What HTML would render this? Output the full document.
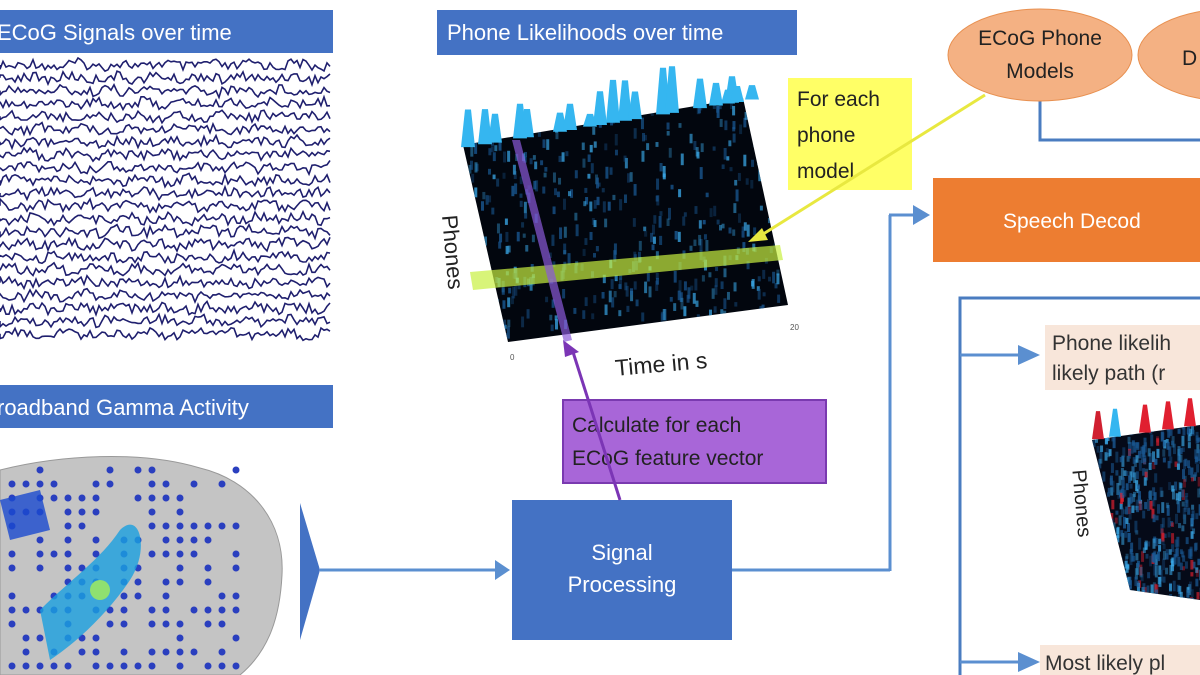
<!DOCTYPE html>
<html><head><meta charset="utf-8"><style>
body{margin:0;width:1200px;height:675px;overflow:hidden;background:#fff;font-family:"Liberation Sans",sans-serif}
svg{position:absolute;left:0;top:0}
</style></head><body>
<svg id="s" width="1200" height="675" viewBox="0 0 1200 675">
<defs>
<clipPath id="hm"><polygon points="463,145 743,98 788,305 508,342"/></clipPath>
<clipPath id="hm2"><polygon points="1092,440 1200,425 1200,600 1130,590"/></clipPath>
</defs>
<rect x="-5" y="10" width="338" height="43" fill="#4472c4"/>
<text x="-3" y="40" fill="#fff" font-size="22">ECoG Signals over time</text>
<rect x="-5" y="385" width="338" height="43" fill="#4472c4"/>
<text x="-3" y="415" fill="#fff" font-size="22">roadband  Gamma Activity</text>
<rect x="437" y="10" width="360" height="45" fill="#4472c4"/>
<text x="447" y="40" fill="#fff" font-size="22">Phone Likelihoods over time</text>
<g id="traces" stroke="#1f1f6e" stroke-width="1.6" fill="none"></g>
<path d="M0,470 C60,455 140,450 200,468 C250,480 285,520 282,575 C280,615 270,650 240,675 L0,675 Z" fill="#c4c4c4" stroke="#999"/>
<g id="dots" fill="#2a3fbf"></g>
<path d="M40,610 C70,580 100,560 120,530 C140,510 150,550 130,580 C110,610 80,640 50,660 Z" fill="#1aa0e0" opacity="0.8"/>
<circle cx="100" cy="590" r="10" fill="#8fe070"/>
<path d="M0,500 L40,490 L50,530 L10,540 Z" fill="#1a4ad0" opacity="0.8"/>
<polygon points="300,503 320,570 300,640" fill="#4472c4"/>
<line x1="320" y1="570" x2="495" y2="570" stroke="#5b8fd0" stroke-width="3"/>
<polygon points="495,560 510,570 495,580" fill="#5b8fd0"/>
<rect x="512" y="500" width="220" height="140" fill="#4472c4"/>
<text x="622" y="560" fill="#fff" font-size="22" text-anchor="middle">Signal</text>
<text x="622" y="592" fill="#fff" font-size="22" text-anchor="middle">Processing</text>
<line x1="732" y1="570" x2="890" y2="570" stroke="#5b8fd0" stroke-width="3"/>
<line x1="890" y1="571" x2="890" y2="215" stroke="#5b8fd0" stroke-width="3"/>
<line x1="889" y1="215" x2="915" y2="215" stroke="#5b8fd0" stroke-width="3"/>
<polygon points="913,205 930,215 913,225" fill="#5b8fd0"/>
<rect x="563" y="400" width="263" height="83" fill="#a866d8" stroke="#7a3ab0" stroke-width="2"/>
<text x="572" y="432" fill="#222" font-size="21">Calculate for each</text>
<text x="572" y="465" fill="#222" font-size="21">ECoG feature vector</text>
<line x1="620" y1="500" x2="573" y2="352" stroke="#7b35b5" stroke-width="3"/>
<polygon points="563,340 579,352 565,357" fill="#7b35b5"/>
<polygon points="463,145 743,98 788,305 508,342" fill="#02060e"/>
<g id="hmc" clip-path="url(#hm)"></g>
<polygon points="470,272 780,245 783,260 473,290" fill="#c8f040" opacity="0.7"/>
<polygon points="512,140 520,140 572,340 564,342" fill="#8a5ad8" opacity="0.7"/>
<g id="peaks" fill="#35b6f0"></g>
<text x="415" y="255" font-size="22" fill="#222" transform="rotate(85 450 250)">Phones</text>
<text x="615" y="372" font-size="23" fill="#222" transform="rotate(-5 660 365)">Time in s</text>
<text x="510" y="360" font-size="8" fill="#555">0</text>
<text x="790" y="330" font-size="8" fill="#555">20</text>
<rect x="788" y="78" width="124" height="112" fill="#ffff66"/>
<text x="797" y="106" font-size="21" fill="#222">For each</text>
<text x="797" y="142" font-size="21" fill="#222">phone</text>
<text x="797" y="178" font-size="21" fill="#222">model</text>
<line x1="985" y1="95" x2="760" y2="236" stroke="#e8e840" stroke-width="3"/>
<polygon points="748,242 762,228 768,240" fill="#e8e840"/>
<path d="M1040,95 L1040,140 L1200,140" stroke="#4a7cc0" stroke-width="3" fill="none"/>
<ellipse cx="1040" cy="55" rx="92" ry="46" fill="#f4b183" stroke="#e89050"/>
<text x="1040" y="45" font-size="21" fill="#222" text-anchor="middle">ECoG Phone</text>
<text x="1040" y="78" font-size="21" fill="#222" text-anchor="middle">Models</text>
<ellipse cx="1230" cy="55" rx="92" ry="46" fill="#f4b183" stroke="#e89050"/>
<text x="1182" y="65" font-size="21" fill="#222">D</text>
<rect x="933" y="178" width="280" height="84" fill="#ed7d31"/>
<text x="1003" y="228" font-size="21" fill="#fff">Speech Decod</text>
<path d="M1200,298 L960,298 L960,675" stroke="#4a7cc0" stroke-width="3" fill="none"/>
<line x1="960" y1="355" x2="1020" y2="355" stroke="#5b8fd0" stroke-width="3"/>
<polygon points="1018,345 1040,355 1018,365" fill="#5b8fd0"/>
<line x1="960" y1="662" x2="1020" y2="662" stroke="#5b8fd0" stroke-width="3"/>
<polygon points="1018,652 1040,662 1018,672" fill="#5b8fd0"/>
<rect x="1045" y="325" width="160" height="65" fill="#f8e6da"/>
<text x="1052" y="350" font-size="21" fill="#333">Phone likelih</text>
<text x="1052" y="380" font-size="21" fill="#333">likely path (r</text>
<rect x="1040" y="645" width="165" height="32" fill="#f8e6da"/>
<text x="1045" y="670" font-size="21" fill="#333">Most likely pl</text>
<polygon points="1092,440 1200,425 1200,600 1130,590" fill="#050a18"/>
<g id="hmc2" clip-path="url(#hm2)"></g>
<text x="1045" y="500" font-size="20" fill="#222" transform="rotate(85 1075 500)">Phones</text>
<g id="peaks2"></g>
</svg>
<script>
var NS="http://www.w3.org/2000/svg";
function r(a){var x=Math.sin(a*12.9898)*43758.5453;return x-Math.floor(x);}
var seed=1;function rnd(){return r(seed++);}
var g=document.getElementById('traces');
for(var i=0;i<22;i++){var y0=65+i*12.8;var d="M0,"+y0;for(var x=0;x<=330;x+=3){d+=" L"+x+","+(y0+(rnd()-0.5)*10+Math.sin(x/7+i)*2).toFixed(1);}
var p=document.createElementNS(NS,'path');p.setAttribute('d',d);g.appendChild(p);}
var dots=document.getElementById('dots');
for(var yy=470;yy<675;yy+=14)for(var xx=5;xx<230;xx+=14){if(rnd()<0.55){var c=document.createElementNS(NS,'circle');c.setAttribute('cx',xx+(yy%28?7:0));c.setAttribute('cy',yy);c.setAttribute('r',3.5);dots.appendChild(c);}}
function cells(id,x0,x1,y0,y1,red,n){var h=document.getElementById(id);
for(var k=0;k<n;k++){var x=x0+rnd()*(x1-x0),y=y0+rnd()*(y1-y0);var e=document.createElementNS(NS,'rect');e.setAttribute('x',x);e.setAttribute('y',y);e.setAttribute('width',3);e.setAttribute('height',4+rnd()*8);
e.setAttribute('fill',red&&rnd()<0.08?'#e02030':(rnd()<0.6?'#1a5a96':'#3aa8e8'));e.setAttribute('opacity',0.3+rnd()*0.5);h.appendChild(e);}}
cells('hmc',460,790,95,345,false,550);cells('hmc2',1090,1200,420,600,true,500);
var pk=document.getElementById('peaks');
var xs=[468,485,495,520,527,560,570,590,600,613,625,635,663,672,700,716,728,732,737,752];
xs.forEach(function(x){var ty=148-(x-463)*0.168;var h=12+rnd()*35;var p=document.createElementNS(NS,'polygon');
p.setAttribute('points',(x-7)+","+ty+" "+(x-3)+","+(ty-h)+" "+(x+3)+","+(ty-h)+" "+(x+7)+","+ty);pk.appendChild(p);});
var pk2=document.getElementById('peaks2');
[[1098,'#d02030'],[1115,'#35b6f0'],[1145,'#e02030'],[1168,'#e02030'],[1190,'#e02030']].forEach(function(a){var x=a[0];var ty=440-(x-1092)*0.14;var p=document.createElementNS(NS,'polygon');
p.setAttribute('points',(x-6)+","+ty+" "+(x-2)+","+(ty-28)+" "+(x+2)+","+(ty-28)+" "+(x+6)+","+ty);p.setAttribute('fill',a[1]);pk2.appendChild(p);});
</script>
</body></html>
